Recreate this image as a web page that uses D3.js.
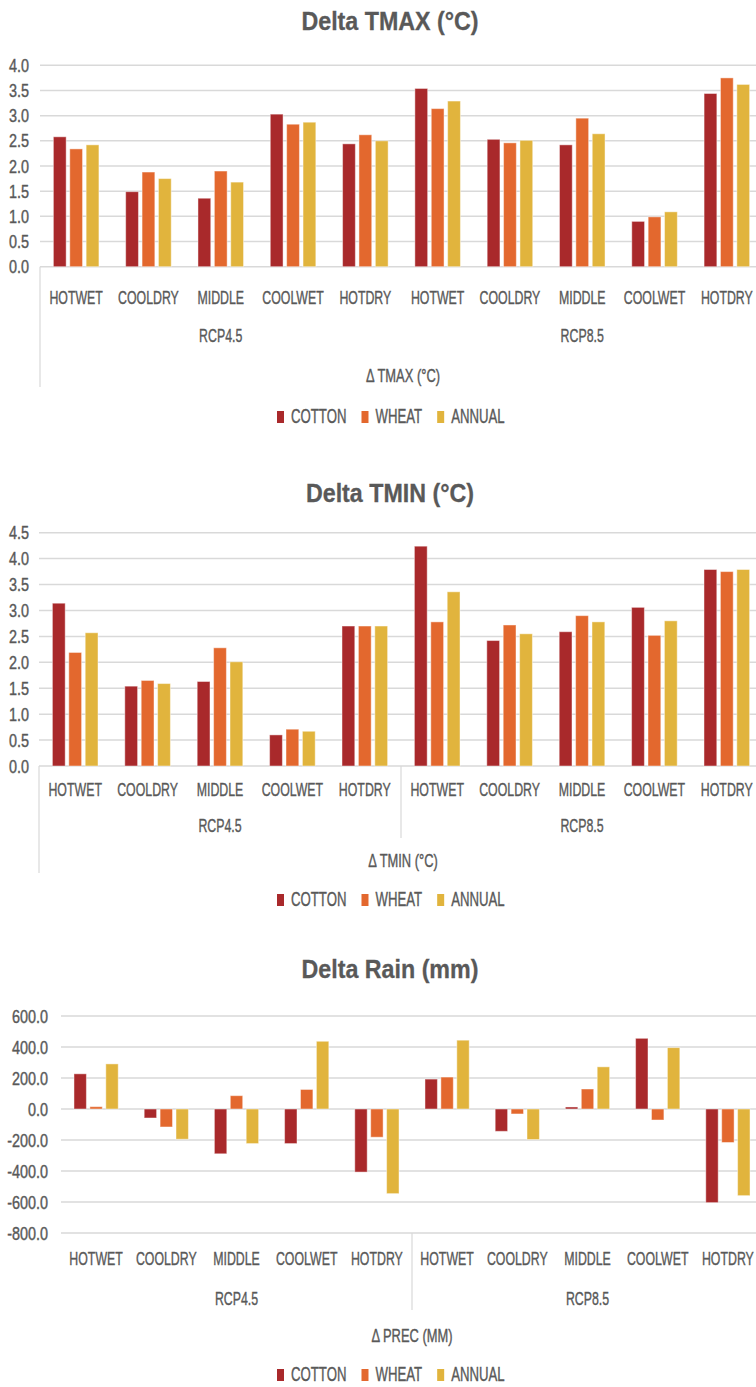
<!DOCTYPE html>
<html><head><meta charset="utf-8">
<script src="https://cdn.jsdelivr.net/npm/d3@7"></script>
<style>
html,body{margin:0;padding:0;background:#fff;}
svg text{font-family:"Liberation Sans",Arial,sans-serif;fill:#595959;stroke:#595959;stroke-width:0.4px;}
</style></head>
<body>
<svg id="c" width="756" height="1387"></svg>
<script>
const categories = ["HOTWET","COOLDRY","MIDDLE","COOLWET","HOTDRY"];
const scenarios = ["RCP4.5","RCP8.5"];
const seriesNames = ["COTTON","WHEAT","ANNUAL"];
const seriesColors = ["#A9292B","#E3682E","#E1B43D"];

// Delta TMAX: RCP4.5 (5) then RCP8.5 (5)
const tmaxCotton = [2.58,1.49,1.36,3.03,2.44, 3.54,2.53,2.42,0.90,3.44];
const tmaxWheat  = [2.34,1.88,1.90,2.83,2.62, 3.14,2.46,2.95,0.99,3.75];
const tmaxAnnual = [2.42,1.75,1.68,2.87,2.50, 3.29,2.51,2.64,1.09,3.62];
const tmaxTicks = [0,0.5,1,1.5,2,2.5,3,3.5,4];

const tminCotton = [3.14,1.54,1.63,0.60,2.70, 4.24,2.42,2.59,3.06,3.79];
const tminWheat  = [2.19,1.65,2.28,0.71,2.70, 2.78,2.72,2.90,2.52,3.75];
const tminAnnual = [2.57,1.59,2.01,0.67,2.70, 3.36,2.55,2.78,2.80,3.79];
const tminTicks = [0,0.5,1,1.5,2,2.5,3,3.5,4,4.5];

const rainCotton = [227,-58,-289,-223,-407, 193,-144,13,456,-604];
const rainWheat  = [15,-116,86,126,-182, 206,-32,129,-71,-216];
const rainAnnual = [291,-195,-223,437,-546, 444,-197,272,396,-559];
const rainTicks = [-800,-600,-400,-200,0,200,400,600];

const svg = d3.select("#c");
const fmt = d3.formatLocale({decimal:".",thousands:",",grouping:[3],currency:["",""],minus:"-"}).format(".1f");

// horizontally condense a text around its own x anchor
function condense(sel, ratio){
  sel.each(function(){
    const x = +this.getAttribute("x");
    this.setAttribute("transform", `translate(${x},0) scale(${ratio},1) translate(${-x},0)`);
  });
  return sel;
}

function drawChart(o){
  const g = svg.append("g");
  const n = categories.length*scenarios.length;
  const x0 = d3.scaleBand().domain(d3.range(n)).range([o.left,763]).padding(0);
  const step = x0.step();
  const x1 = d3.scaleBand().domain(d3.range(seriesNames.length))
     .range([step*o.gpad, step*(1-o.gpad)]).paddingInner(0.22).paddingOuter(0);
  const y = d3.scaleLinear().domain(o.domain).range([o.bottom,o.top]);

  // title
  const tt = g.append("text").attr("x",390).attr("y",o.titleY).attr("text-anchor","middle")
   .style("font-weight","bold").style("font-size","25px").style("stroke-width","0.3px")
   .attr("dominant-baseline","central").text(o.title);
  condense(tt,0.93);

  // grid
  g.selectAll(".grid").data(o.ticks).join("line")
   .attr("x1",o.left).attr("x2",763).attr("y1",d=>y(d)).attr("y2",d=>y(d))
   .attr("stroke","#d9d9d9").attr("stroke-width",1.5);
  // tick labels
  condense(g.selectAll(".tl").data(o.ticks).join("text")
   .attr("x",o.tickX).attr("y",d=>y(d)).attr("text-anchor","end")
   .attr("dominant-baseline","central").style("font-size","18px")
   .text(d=>fmt(d)), 0.8);

  // bars
  const vals = [o.s0,o.s1,o.s2];
  vals.forEach((arr,si)=>{
    g.selectAll(".b"+si).data(arr).join("rect")
     .attr("x",(d,i)=>x0(i)+x1(si)).attr("width",x1.bandwidth())
     .attr("y",d=>y(Math.max(0,d))).attr("height",d=>Math.abs(y(d)-y(0)))
     .attr("fill",seriesColors[si]).attr("stroke","rgba(255,255,255,0.45)").attr("stroke-width",1);
  });

  // category labels
  const labs = [];
  scenarios.forEach(()=>categories.forEach(c=>labs.push(c)));
  condense(g.selectAll(".cl").data(labs).join("text")
   .attr("x",(d,i)=>x0(i)+step/2).attr("y",o.catY).attr("text-anchor","middle")
   .attr("dominant-baseline","central").style("font-size","19px").text(d=>d), 0.65);
  // scenario labels
  condense(g.selectAll(".sl").data(scenarios).join("text")
   .attr("x",(d,i)=>x0(i*categories.length)+step*categories.length/2)
   .attr("y",o.scenY).attr("text-anchor","middle").attr("dominant-baseline","central")
   .style("font-size","19px").text(d=>d), 0.65);
  // axis title
  condense(g.append("text").attr("x",o.axisTitleX).attr("y",o.axisTitleY).attr("text-anchor","middle")
   .attr("dominant-baseline","central").style("font-size","19px").text(o.axisTitle), 0.68);

  // lines
  if(o.leftLine){
    g.append("line").attr("x1",o.left).attr("x2",o.left).attr("y1",o.bottom).attr("y2",o.leftLineEnd)
     .attr("stroke","#d9d9d9").attr("stroke-width",1.2);
  }
  if(o.sepEnd){
    const sx = x0(categories.length);
    g.append("line").attr("x1",sx).attr("x2",sx).attr("y1",o.bottom).attr("y2",o.sepEnd)
     .attr("stroke","#d9d9d9").attr("stroke-width",1.2);
  }

  // legend
  const lg = g.append("g");
  let cx = 277;
  seriesNames.forEach((s,i)=>{
    lg.append("rect").attr("x",cx).attr("y",o.legendY-6).attr("width",7).attr("height",12).attr("fill",seriesColors[i]);
    const t = lg.append("text").attr("x",cx+14).attr("y",o.legendY).attr("dominant-baseline","central")
     .style("font-size","20px").text(s);
    const w = t.node().getComputedTextLength()*0.66;
    condense(t,0.66);
    cx += 14 + w + 15;
  });
}

drawChart({title:"Delta TMAX (°C)",titleY:21,left:40,top:65.3,bottom:266.7,domain:[0,4],ticks:tmaxTicks,
  tickX:29,s0:tmaxCotton,s1:tmaxWheat,s2:tmaxAnnual,gpad:0.185,catY:297,scenY:335,
  axisTitle:"Δ TMAX (°C)",axisTitleX:403,axisTitleY:375,leftLine:true,leftLineEnd:387,sepEnd:null,legendY:417});

drawChart({title:"Delta TMIN (°C)",titleY:493,left:39,top:532.7,bottom:766,domain:[0,4.5],ticks:tminTicks,
  tickX:29,s0:tminCotton,s1:tminWheat,s2:tminAnnual,gpad:0.185,catY:789,scenY:825,
  axisTitle:"Δ TMIN (°C)",axisTitleX:403,axisTitleY:860,leftLine:true,leftLineEnd:873,sepEnd:838,legendY:900});

drawChart({title:"Delta Rain (mm)",titleY:969,left:61,top:1016,bottom:1233,domain:[-800,600],ticks:rainTicks,
  tickX:48,s0:rainCotton,s1:rainWheat,s2:rainAnnual,gpad:0.185,catY:1258,scenY:1298,
  axisTitle:"Δ PREC (MM)",axisTitleX:412,axisTitleY:1335,leftLine:false,leftLineEnd:0,sepEnd:1310,legendY:1375});
</script>
</body></html>
